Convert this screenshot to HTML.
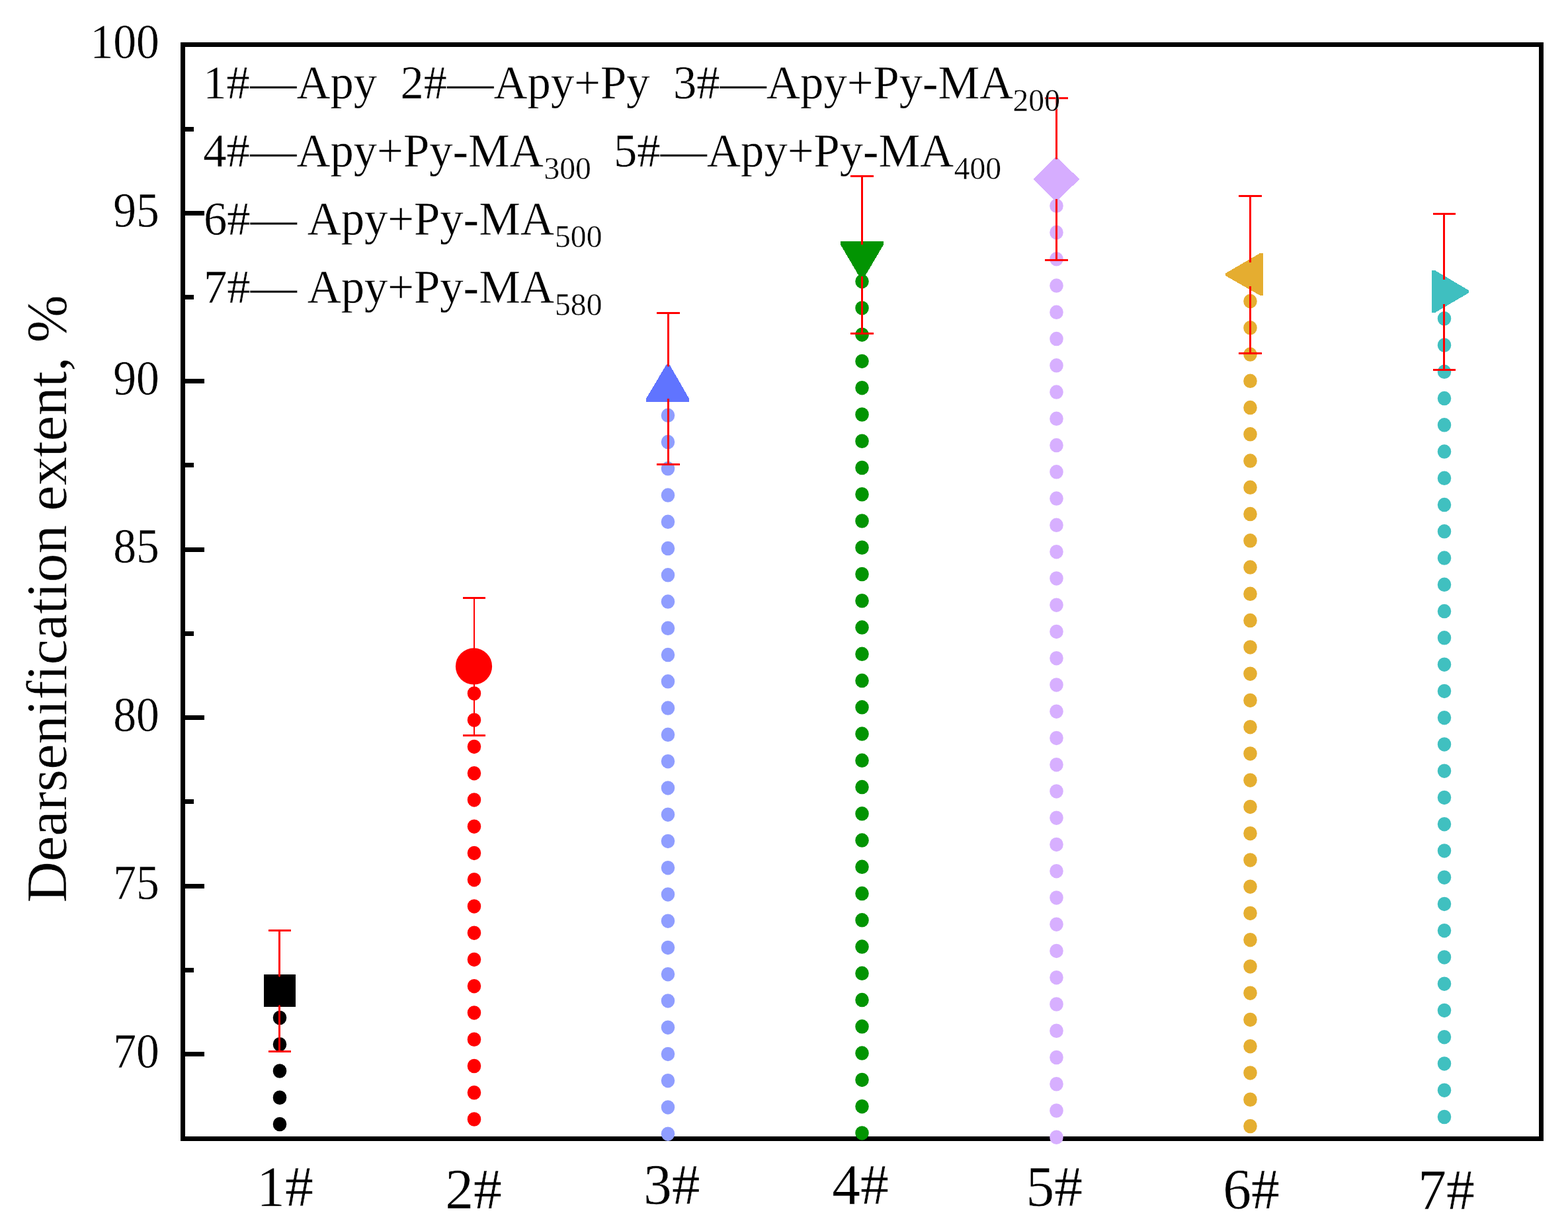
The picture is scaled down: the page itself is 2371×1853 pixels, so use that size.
<!DOCTYPE html>
<html lang="en"><head><meta charset="utf-8"><title>Dearsenification extent</title>
<style>
html,body{margin:0;padding:0;background:#fff;width:2371px;height:1853px;overflow:hidden}
svg{display:block;position:absolute;left:0;top:0}
text{font-family:"Liberation Serif","Times New Roman",serif;fill:#000;font-variant-ligatures:none;font-kerning:none;white-space:pre;stroke:#fff;stroke-width:0.4px;stroke-linejoin:round}
</style></head><body>
<svg width="2371" height="1853" viewBox="0 0 2371 1853">
<rect x="0" y="0" width="2371" height="1853" fill="#fff"/>
<g shape-rendering="crispEdges" fill="none" stroke="#000" stroke-width="7">
<rect x="276.5" y="67.5" width="2054.0" height="1655.0"/>
<line x1="276.5" y1="322.25" x2="309" y2="322.25"/>
<line x1="276.5" y1="576.70" x2="309" y2="576.70"/>
<line x1="276.5" y1="831.15" x2="309" y2="831.15"/>
<line x1="276.5" y1="1085.60" x2="309" y2="1085.60"/>
<line x1="276.5" y1="1340.05" x2="309" y2="1340.05"/>
<line x1="276.5" y1="1594.50" x2="309" y2="1594.50"/>
<line x1="276.5" y1="195.03" x2="293" y2="195.03"/>
<line x1="276.5" y1="449.47" x2="293" y2="449.47"/>
<line x1="276.5" y1="703.92" x2="293" y2="703.92"/>
<line x1="276.5" y1="958.38" x2="293" y2="958.38"/>
<line x1="276.5" y1="1212.83" x2="293" y2="1212.83"/>
<line x1="276.5" y1="1467.28" x2="293" y2="1467.28"/>
</g>
<g font-size="74.4" text-anchor="end">
<text transform="translate(240.9,88.1) scale(0.936,1)">100</text>
<text transform="translate(240.9,342.6) scale(0.936,1)">95</text>
<text transform="translate(240.9,597.0) scale(0.936,1)">90</text>
<text transform="translate(240.9,851.4) scale(0.936,1)">85</text>
<text transform="translate(240.9,1105.9) scale(0.936,1)">80</text>
<text transform="translate(240.9,1360.3) scale(0.936,1)">75</text>
<text transform="translate(240.9,1614.8) scale(0.936,1)">70</text>
</g>
<text font-size="87.3" transform="translate(100.3,1365.4) rotate(-90) scale(0.99,1)">Dearsenification extent, %</text>
<g font-size="87.3">
<text transform="translate(388.3,1823.5) scale(0.980,1)">1#</text>
<text transform="translate(673.3,1827.5) scale(0.980,1)">2#</text>
<text transform="translate(973.0,1821.0) scale(0.980,1)">3#</text>
<text transform="translate(1258.2,1821.0) scale(0.980,1)">4#</text>
<text transform="translate(1551.6,1823.5) scale(0.980,1)">5#</text>
<text transform="translate(1849.3,1828.0) scale(0.980,1)">6#</text>
<text transform="translate(2144.2,1829.0) scale(0.980,1)">7#</text>
</g>
<g>
<g fill="#000000"><rect x="412.75" y="1528.75" width="20.5" height="21.5" rx="10.25" ry="10.6"/><rect x="412.75" y="1569.01" width="20.5" height="21.5" rx="10.25" ry="10.6"/><rect x="412.75" y="1609.26" width="20.5" height="21.5" rx="10.25" ry="10.6"/><rect x="412.75" y="1649.52" width="20.5" height="21.5" rx="10.25" ry="10.6"/><rect x="412.75" y="1689.77" width="20.5" height="21.5" rx="10.25" ry="10.6"/></g>
<g fill="#000000" shape-rendering="crispEdges"><rect x="399" y="1474" width="48" height="49" rx="1.5"/></g>
<g fill="#ff0000" stroke="#ff0000" shape-rendering="crispEdges"><rect x="406" y="1406" width="34" height="3" stroke="none"/><rect x="406" y="1589" width="34" height="3" stroke="none"/><path d="M422.5 1407.5 V1476.1 M422.5 1521.7 V1590.5" fill="none" stroke-width="3" stroke-linecap="round"/></g>
</g>
<g>
<g fill="#ff0000"><rect x="706.75" y="1038.15" width="20.5" height="21.5" rx="10.25" ry="10.6"/><rect x="706.75" y="1078.41" width="20.5" height="21.5" rx="10.25" ry="10.6"/><rect x="706.75" y="1118.66" width="20.5" height="21.5" rx="10.25" ry="10.6"/><rect x="706.75" y="1158.92" width="20.5" height="21.5" rx="10.25" ry="10.6"/><rect x="706.75" y="1199.17" width="20.5" height="21.5" rx="10.25" ry="10.6"/><rect x="706.75" y="1239.43" width="20.5" height="21.5" rx="10.25" ry="10.6"/><rect x="706.75" y="1279.69" width="20.5" height="21.5" rx="10.25" ry="10.6"/><rect x="706.75" y="1319.94" width="20.5" height="21.5" rx="10.25" ry="10.6"/><rect x="706.75" y="1360.20" width="20.5" height="21.5" rx="10.25" ry="10.6"/><rect x="706.75" y="1400.45" width="20.5" height="21.5" rx="10.25" ry="10.6"/><rect x="706.75" y="1440.71" width="20.5" height="21.5" rx="10.25" ry="10.6"/><rect x="706.75" y="1480.97" width="20.5" height="21.5" rx="10.25" ry="10.6"/><rect x="706.75" y="1521.22" width="20.5" height="21.5" rx="10.25" ry="10.6"/><rect x="706.75" y="1561.48" width="20.5" height="21.5" rx="10.25" ry="10.6"/><rect x="706.75" y="1601.73" width="20.5" height="21.5" rx="10.25" ry="10.6"/><rect x="706.75" y="1641.99" width="20.5" height="21.5" rx="10.25" ry="10.6"/><rect x="706.75" y="1682.25" width="20.5" height="21.5" rx="10.25" ry="10.6"/></g>
<g fill="#ff0000"><circle cx="716.5" cy="1007.9" r="27.6"/></g>
<g fill="#ff0000" stroke="#ff0000" shape-rendering="crispEdges"><rect x="700" y="903" width="34" height="3" stroke="none"/><rect x="700" y="1111" width="34" height="3" stroke="none"/><path d="M717.0 904.5 V981.0 M717.0 1035.0 V1112.5" fill="none" stroke-width="2" stroke-linecap="round"/></g>
</g>
<g>
<g fill="#8f9dff"><rect x="999.75" y="617.55" width="20.5" height="21.5" rx="10.25" ry="10.6"/><rect x="999.75" y="657.81" width="20.5" height="21.5" rx="10.25" ry="10.6"/><rect x="999.75" y="698.06" width="20.5" height="21.5" rx="10.25" ry="10.6"/><rect x="999.75" y="738.32" width="20.5" height="21.5" rx="10.25" ry="10.6"/><rect x="999.75" y="778.57" width="20.5" height="21.5" rx="10.25" ry="10.6"/><rect x="999.75" y="818.83" width="20.5" height="21.5" rx="10.25" ry="10.6"/><rect x="999.75" y="859.09" width="20.5" height="21.5" rx="10.25" ry="10.6"/><rect x="999.75" y="899.34" width="20.5" height="21.5" rx="10.25" ry="10.6"/><rect x="999.75" y="939.60" width="20.5" height="21.5" rx="10.25" ry="10.6"/><rect x="999.75" y="979.85" width="20.5" height="21.5" rx="10.25" ry="10.6"/><rect x="999.75" y="1020.11" width="20.5" height="21.5" rx="10.25" ry="10.6"/><rect x="999.75" y="1060.37" width="20.5" height="21.5" rx="10.25" ry="10.6"/><rect x="999.75" y="1100.62" width="20.5" height="21.5" rx="10.25" ry="10.6"/><rect x="999.75" y="1140.88" width="20.5" height="21.5" rx="10.25" ry="10.6"/><rect x="999.75" y="1181.13" width="20.5" height="21.5" rx="10.25" ry="10.6"/><rect x="999.75" y="1221.39" width="20.5" height="21.5" rx="10.25" ry="10.6"/><rect x="999.75" y="1261.65" width="20.5" height="21.5" rx="10.25" ry="10.6"/><rect x="999.75" y="1301.90" width="20.5" height="21.5" rx="10.25" ry="10.6"/><rect x="999.75" y="1342.16" width="20.5" height="21.5" rx="10.25" ry="10.6"/><rect x="999.75" y="1382.41" width="20.5" height="21.5" rx="10.25" ry="10.6"/><rect x="999.75" y="1422.67" width="20.5" height="21.5" rx="10.25" ry="10.6"/><rect x="999.75" y="1462.93" width="20.5" height="21.5" rx="10.25" ry="10.6"/><rect x="999.75" y="1503.18" width="20.5" height="21.5" rx="10.25" ry="10.6"/><rect x="999.75" y="1543.44" width="20.5" height="21.5" rx="10.25" ry="10.6"/><rect x="999.75" y="1583.69" width="20.5" height="21.5" rx="10.25" ry="10.6"/><rect x="999.75" y="1623.95" width="20.5" height="21.5" rx="10.25" ry="10.6"/><rect x="999.75" y="1664.21" width="20.5" height="21.5" rx="10.25" ry="10.6"/><rect x="999.75" y="1704.46" width="20.5" height="21.5" rx="10.25" ry="10.6"/></g>
<g fill="#6074ff" shape-rendering="crispEdges"><path d="M1008 550.8 H1012 L1042.1 603 V608 H977 V603 Z"/></g>
<g fill="#ff0000" stroke="#ff0000" shape-rendering="crispEdges"><rect x="993" y="472" width="35" height="3" stroke="none"/><rect x="993" y="701" width="35" height="3" stroke="none"/><path d="M1010.5 473.5 V553.2 M1010.5 604.6 V702.5" fill="none" stroke-width="3" stroke-linecap="round"/></g>
</g>
<g>
<g fill="#029402"><rect x="1293.25" y="414.95" width="20.5" height="21.5" rx="10.25" ry="10.6"/><rect x="1293.25" y="455.21" width="20.5" height="21.5" rx="10.25" ry="10.6"/><rect x="1293.25" y="495.46" width="20.5" height="21.5" rx="10.25" ry="10.6"/><rect x="1293.25" y="535.72" width="20.5" height="21.5" rx="10.25" ry="10.6"/><rect x="1293.25" y="575.97" width="20.5" height="21.5" rx="10.25" ry="10.6"/><rect x="1293.25" y="616.23" width="20.5" height="21.5" rx="10.25" ry="10.6"/><rect x="1293.25" y="656.49" width="20.5" height="21.5" rx="10.25" ry="10.6"/><rect x="1293.25" y="696.74" width="20.5" height="21.5" rx="10.25" ry="10.6"/><rect x="1293.25" y="737.00" width="20.5" height="21.5" rx="10.25" ry="10.6"/><rect x="1293.25" y="777.25" width="20.5" height="21.5" rx="10.25" ry="10.6"/><rect x="1293.25" y="817.51" width="20.5" height="21.5" rx="10.25" ry="10.6"/><rect x="1293.25" y="857.77" width="20.5" height="21.5" rx="10.25" ry="10.6"/><rect x="1293.25" y="898.02" width="20.5" height="21.5" rx="10.25" ry="10.6"/><rect x="1293.25" y="938.28" width="20.5" height="21.5" rx="10.25" ry="10.6"/><rect x="1293.25" y="978.53" width="20.5" height="21.5" rx="10.25" ry="10.6"/><rect x="1293.25" y="1018.79" width="20.5" height="21.5" rx="10.25" ry="10.6"/><rect x="1293.25" y="1059.05" width="20.5" height="21.5" rx="10.25" ry="10.6"/><rect x="1293.25" y="1099.30" width="20.5" height="21.5" rx="10.25" ry="10.6"/><rect x="1293.25" y="1139.56" width="20.5" height="21.5" rx="10.25" ry="10.6"/><rect x="1293.25" y="1179.81" width="20.5" height="21.5" rx="10.25" ry="10.6"/><rect x="1293.25" y="1220.07" width="20.5" height="21.5" rx="10.25" ry="10.6"/><rect x="1293.25" y="1260.33" width="20.5" height="21.5" rx="10.25" ry="10.6"/><rect x="1293.25" y="1300.58" width="20.5" height="21.5" rx="10.25" ry="10.6"/><rect x="1293.25" y="1340.84" width="20.5" height="21.5" rx="10.25" ry="10.6"/><rect x="1293.25" y="1381.09" width="20.5" height="21.5" rx="10.25" ry="10.6"/><rect x="1293.25" y="1421.35" width="20.5" height="21.5" rx="10.25" ry="10.6"/><rect x="1293.25" y="1461.61" width="20.5" height="21.5" rx="10.25" ry="10.6"/><rect x="1293.25" y="1501.86" width="20.5" height="21.5" rx="10.25" ry="10.6"/><rect x="1293.25" y="1542.12" width="20.5" height="21.5" rx="10.25" ry="10.6"/><rect x="1293.25" y="1582.37" width="20.5" height="21.5" rx="10.25" ry="10.6"/><rect x="1293.25" y="1622.63" width="20.5" height="21.5" rx="10.25" ry="10.6"/><rect x="1293.25" y="1662.89" width="20.5" height="21.5" rx="10.25" ry="10.6"/><rect x="1293.25" y="1703.14" width="20.5" height="21.5" rx="10.25" ry="10.6"/></g>
<g fill="#029402" shape-rendering="crispEdges"><path d="M1270.9 364.9 H1336.1 V369.9 L1305.5 422 H1301.5 L1270.9 369.9 Z"/></g>
<g fill="#ff0000" stroke="#ff0000" shape-rendering="crispEdges"><rect x="1286" y="265" width="35" height="3" stroke="none"/><rect x="1286" y="503" width="35" height="3" stroke="none"/><path d="M1303.5 266.5 V368.5 M1303.5 419.6 V504.5" fill="none" stroke-width="3" stroke-linecap="round"/></g>
</g>
<g>
<g fill="#d7afff"><rect x="1587.25" y="300.55" width="20.5" height="21.5" rx="10.25" ry="10.6"/><rect x="1587.25" y="340.81" width="20.5" height="21.5" rx="10.25" ry="10.6"/><rect x="1587.25" y="381.06" width="20.5" height="21.5" rx="10.25" ry="10.6"/><rect x="1587.25" y="421.32" width="20.5" height="21.5" rx="10.25" ry="10.6"/><rect x="1587.25" y="461.57" width="20.5" height="21.5" rx="10.25" ry="10.6"/><rect x="1587.25" y="501.83" width="20.5" height="21.5" rx="10.25" ry="10.6"/><rect x="1587.25" y="542.09" width="20.5" height="21.5" rx="10.25" ry="10.6"/><rect x="1587.25" y="582.34" width="20.5" height="21.5" rx="10.25" ry="10.6"/><rect x="1587.25" y="622.60" width="20.5" height="21.5" rx="10.25" ry="10.6"/><rect x="1587.25" y="662.85" width="20.5" height="21.5" rx="10.25" ry="10.6"/><rect x="1587.25" y="703.11" width="20.5" height="21.5" rx="10.25" ry="10.6"/><rect x="1587.25" y="743.37" width="20.5" height="21.5" rx="10.25" ry="10.6"/><rect x="1587.25" y="783.62" width="20.5" height="21.5" rx="10.25" ry="10.6"/><rect x="1587.25" y="823.88" width="20.5" height="21.5" rx="10.25" ry="10.6"/><rect x="1587.25" y="864.13" width="20.5" height="21.5" rx="10.25" ry="10.6"/><rect x="1587.25" y="904.39" width="20.5" height="21.5" rx="10.25" ry="10.6"/><rect x="1587.25" y="944.65" width="20.5" height="21.5" rx="10.25" ry="10.6"/><rect x="1587.25" y="984.90" width="20.5" height="21.5" rx="10.25" ry="10.6"/><rect x="1587.25" y="1025.16" width="20.5" height="21.5" rx="10.25" ry="10.6"/><rect x="1587.25" y="1065.41" width="20.5" height="21.5" rx="10.25" ry="10.6"/><rect x="1587.25" y="1105.67" width="20.5" height="21.5" rx="10.25" ry="10.6"/><rect x="1587.25" y="1145.93" width="20.5" height="21.5" rx="10.25" ry="10.6"/><rect x="1587.25" y="1186.18" width="20.5" height="21.5" rx="10.25" ry="10.6"/><rect x="1587.25" y="1226.44" width="20.5" height="21.5" rx="10.25" ry="10.6"/><rect x="1587.25" y="1266.69" width="20.5" height="21.5" rx="10.25" ry="10.6"/><rect x="1587.25" y="1306.95" width="20.5" height="21.5" rx="10.25" ry="10.6"/><rect x="1587.25" y="1347.21" width="20.5" height="21.5" rx="10.25" ry="10.6"/><rect x="1587.25" y="1387.46" width="20.5" height="21.5" rx="10.25" ry="10.6"/><rect x="1587.25" y="1427.72" width="20.5" height="21.5" rx="10.25" ry="10.6"/><rect x="1587.25" y="1467.97" width="20.5" height="21.5" rx="10.25" ry="10.6"/><rect x="1587.25" y="1508.23" width="20.5" height="21.5" rx="10.25" ry="10.6"/><rect x="1587.25" y="1548.49" width="20.5" height="21.5" rx="10.25" ry="10.6"/><rect x="1587.25" y="1588.74" width="20.5" height="21.5" rx="10.25" ry="10.6"/><rect x="1587.25" y="1629.00" width="20.5" height="21.5" rx="10.25" ry="10.6"/><rect x="1587.25" y="1669.25" width="20.5" height="21.5" rx="10.25" ry="10.6"/><rect x="1587.25" y="1709.51" width="20.5" height="21.5" rx="10.25" ry="10.6"/></g>
<g fill="#d6adff" shape-rendering="crispEdges"><path d="M1597.2 236.6 L1632.2 271 L1597.2 305.4 L1562 271 Z"/></g>
<g fill="#ff0000" stroke="#ff0000" shape-rendering="crispEdges"><rect x="1580" y="147" width="35" height="3" stroke="none"/><rect x="1580" y="392" width="35" height="3" stroke="none"/><path d="M1597.5 148.5 V239.4 M1597.5 302.5 V393.5" fill="none" stroke-width="3" stroke-linecap="round"/></g>
</g>
<g>
<g fill="#e5ae30"><rect x="1880.25" y="444.80" width="20.5" height="21.5" rx="10.25" ry="10.6"/><rect x="1880.25" y="485.06" width="20.5" height="21.5" rx="10.25" ry="10.6"/><rect x="1880.25" y="525.31" width="20.5" height="21.5" rx="10.25" ry="10.6"/><rect x="1880.25" y="565.57" width="20.5" height="21.5" rx="10.25" ry="10.6"/><rect x="1880.25" y="605.82" width="20.5" height="21.5" rx="10.25" ry="10.6"/><rect x="1880.25" y="646.08" width="20.5" height="21.5" rx="10.25" ry="10.6"/><rect x="1880.25" y="686.34" width="20.5" height="21.5" rx="10.25" ry="10.6"/><rect x="1880.25" y="726.59" width="20.5" height="21.5" rx="10.25" ry="10.6"/><rect x="1880.25" y="766.85" width="20.5" height="21.5" rx="10.25" ry="10.6"/><rect x="1880.25" y="807.10" width="20.5" height="21.5" rx="10.25" ry="10.6"/><rect x="1880.25" y="847.36" width="20.5" height="21.5" rx="10.25" ry="10.6"/><rect x="1880.25" y="887.62" width="20.5" height="21.5" rx="10.25" ry="10.6"/><rect x="1880.25" y="927.87" width="20.5" height="21.5" rx="10.25" ry="10.6"/><rect x="1880.25" y="968.13" width="20.5" height="21.5" rx="10.25" ry="10.6"/><rect x="1880.25" y="1008.38" width="20.5" height="21.5" rx="10.25" ry="10.6"/><rect x="1880.25" y="1048.64" width="20.5" height="21.5" rx="10.25" ry="10.6"/><rect x="1880.25" y="1088.90" width="20.5" height="21.5" rx="10.25" ry="10.6"/><rect x="1880.25" y="1129.15" width="20.5" height="21.5" rx="10.25" ry="10.6"/><rect x="1880.25" y="1169.41" width="20.5" height="21.5" rx="10.25" ry="10.6"/><rect x="1880.25" y="1209.66" width="20.5" height="21.5" rx="10.25" ry="10.6"/><rect x="1880.25" y="1249.92" width="20.5" height="21.5" rx="10.25" ry="10.6"/><rect x="1880.25" y="1290.18" width="20.5" height="21.5" rx="10.25" ry="10.6"/><rect x="1880.25" y="1330.43" width="20.5" height="21.5" rx="10.25" ry="10.6"/><rect x="1880.25" y="1370.69" width="20.5" height="21.5" rx="10.25" ry="10.6"/><rect x="1880.25" y="1410.94" width="20.5" height="21.5" rx="10.25" ry="10.6"/><rect x="1880.25" y="1451.20" width="20.5" height="21.5" rx="10.25" ry="10.6"/><rect x="1880.25" y="1491.46" width="20.5" height="21.5" rx="10.25" ry="10.6"/><rect x="1880.25" y="1531.71" width="20.5" height="21.5" rx="10.25" ry="10.6"/><rect x="1880.25" y="1571.97" width="20.5" height="21.5" rx="10.25" ry="10.6"/><rect x="1880.25" y="1612.22" width="20.5" height="21.5" rx="10.25" ry="10.6"/><rect x="1880.25" y="1652.48" width="20.5" height="21.5" rx="10.25" ry="10.6"/><rect x="1880.25" y="1692.74" width="20.5" height="21.5" rx="10.25" ry="10.6"/></g>
<g fill="#e5ad30" shape-rendering="crispEdges"><path d="M1852.9 413.6 V417 L1905.3 446.9 H1910 V383 H1905.3 Z"/></g>
<g fill="#ff0000" stroke="#ff0000" shape-rendering="crispEdges"><rect x="1873" y="295" width="35" height="3" stroke="none"/><rect x="1873" y="533" width="35" height="3" stroke="none"/><path d="M1890.5 296.5 V395.5 M1890.5 434.4 V534.5" fill="none" stroke-width="3" stroke-linecap="round"/></g>
</g>
<g>
<g fill="#40c0c0"><rect x="2173.75" y="471.05" width="20.5" height="21.5" rx="10.25" ry="10.6"/><rect x="2173.75" y="511.31" width="20.5" height="21.5" rx="10.25" ry="10.6"/><rect x="2173.75" y="551.56" width="20.5" height="21.5" rx="10.25" ry="10.6"/><rect x="2173.75" y="591.82" width="20.5" height="21.5" rx="10.25" ry="10.6"/><rect x="2173.75" y="632.07" width="20.5" height="21.5" rx="10.25" ry="10.6"/><rect x="2173.75" y="672.33" width="20.5" height="21.5" rx="10.25" ry="10.6"/><rect x="2173.75" y="712.59" width="20.5" height="21.5" rx="10.25" ry="10.6"/><rect x="2173.75" y="752.84" width="20.5" height="21.5" rx="10.25" ry="10.6"/><rect x="2173.75" y="793.10" width="20.5" height="21.5" rx="10.25" ry="10.6"/><rect x="2173.75" y="833.35" width="20.5" height="21.5" rx="10.25" ry="10.6"/><rect x="2173.75" y="873.61" width="20.5" height="21.5" rx="10.25" ry="10.6"/><rect x="2173.75" y="913.87" width="20.5" height="21.5" rx="10.25" ry="10.6"/><rect x="2173.75" y="954.12" width="20.5" height="21.5" rx="10.25" ry="10.6"/><rect x="2173.75" y="994.38" width="20.5" height="21.5" rx="10.25" ry="10.6"/><rect x="2173.75" y="1034.63" width="20.5" height="21.5" rx="10.25" ry="10.6"/><rect x="2173.75" y="1074.89" width="20.5" height="21.5" rx="10.25" ry="10.6"/><rect x="2173.75" y="1115.15" width="20.5" height="21.5" rx="10.25" ry="10.6"/><rect x="2173.75" y="1155.40" width="20.5" height="21.5" rx="10.25" ry="10.6"/><rect x="2173.75" y="1195.66" width="20.5" height="21.5" rx="10.25" ry="10.6"/><rect x="2173.75" y="1235.91" width="20.5" height="21.5" rx="10.25" ry="10.6"/><rect x="2173.75" y="1276.17" width="20.5" height="21.5" rx="10.25" ry="10.6"/><rect x="2173.75" y="1316.43" width="20.5" height="21.5" rx="10.25" ry="10.6"/><rect x="2173.75" y="1356.68" width="20.5" height="21.5" rx="10.25" ry="10.6"/><rect x="2173.75" y="1396.94" width="20.5" height="21.5" rx="10.25" ry="10.6"/><rect x="2173.75" y="1437.19" width="20.5" height="21.5" rx="10.25" ry="10.6"/><rect x="2173.75" y="1477.45" width="20.5" height="21.5" rx="10.25" ry="10.6"/><rect x="2173.75" y="1517.71" width="20.5" height="21.5" rx="10.25" ry="10.6"/><rect x="2173.75" y="1557.96" width="20.5" height="21.5" rx="10.25" ry="10.6"/><rect x="2173.75" y="1598.22" width="20.5" height="21.5" rx="10.25" ry="10.6"/><rect x="2173.75" y="1638.47" width="20.5" height="21.5" rx="10.25" ry="10.6"/><rect x="2173.75" y="1678.73" width="20.5" height="21.5" rx="10.25" ry="10.6"/></g>
<g fill="#3fbfc0" shape-rendering="crispEdges"><path d="M2221.2 439.4 V442.9 L2169.7 473 H2165 V408.9 H2169.7 Z"/></g>
<g fill="#ff0000" stroke="#ff0000" shape-rendering="crispEdges"><rect x="2167" y="322" width="34" height="3" stroke="none"/><rect x="2167" y="558" width="34" height="3" stroke="none"/><path d="M2183.5 323.5 V421.5 M2183.5 461.5 V559.5" fill="none" stroke-width="3" stroke-linecap="round"/></g>
</g>
<g>
<text font-size="72.8" transform="translate(307.3,148.7) scale(0.970,1)" xml:space="preserve">1#—Apy  2#—Apy+Py  3#—Apy+Py-MA</text><text font-size="48.4" transform="translate(1531.5,167.5) scale(0.985,1)">200</text>
<text font-size="72.8" transform="translate(307.3,252.0) scale(0.970,1)" xml:space="preserve">4#—Apy+Py-MA</text><text font-size="48.4" transform="translate(822.4,270.8) scale(0.985,1)">300</text><text font-size="72.8" transform="translate(927.9,252.0) scale(0.970,1)" xml:space="preserve">5#—Apy+Py-MA</text><text font-size="48.4" transform="translate(1442.7,270.8) scale(0.985,1)">400</text>
<text font-size="72.8" transform="translate(308.0,355.0) scale(0.970,1)" xml:space="preserve">6#—<tspan x="143.3"> Apy+Py-MA</tspan></text><text font-size="48.4" transform="translate(839.0,373.8) scale(0.985,1)">500</text>
<text font-size="72.8" transform="translate(308.0,458.0) scale(0.970,1)" xml:space="preserve">7#—<tspan x="143.3"> Apy+Py-MA</tspan></text><text font-size="48.4" transform="translate(839.0,476.8) scale(0.985,1)">580</text>
</g>
</svg>
</body></html>
